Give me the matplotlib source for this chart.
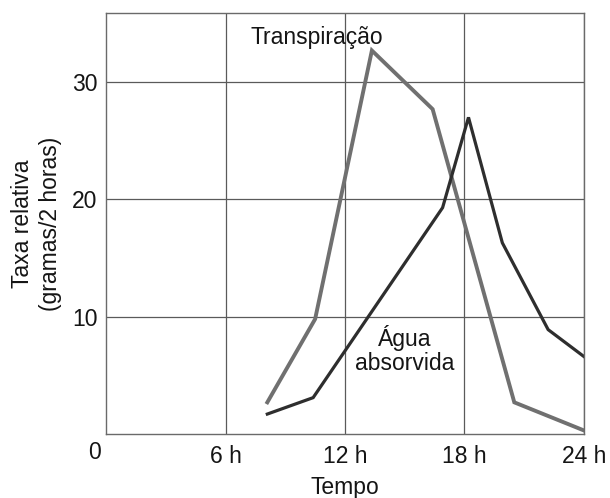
import matplotlib
matplotlib.use("Agg")
import matplotlib.pyplot as plt

# Data
transp_x = [8.1, 10.5, 13.35, 16.4, 20.5, 24.0]
transp_y = [2.7, 9.8, 32.7, 27.7, 2.7, 0.3]
agua_x = [8.1, 10.4, 16.9, 18.2, 19.9, 22.2, 24.0]
agua_y = [1.7, 3.1, 19.3, 27.0, 16.3, 8.9, 6.6]
xticks = [6, 12, 18, 24]
xtick_labels = ["6 h", "12 h", "18 h", "24 h"]
yticks = [10, 20, 30]
ytick_labels = ["10", "20", "30"]

plt.rcParams['font.family'] = ['Liberation Sans', 'DejaVu Sans']
FS = 16.5
TXT = "#151515"

fig = plt.figure(figsize=(6.1, 4.98), dpi=100)
ax = fig.add_axes([106/610, 64/498, (584-106)/610, (434-13)/498])

ax.plot(transp_x, transp_y, color="#707070", lw=2.8, solid_joinstyle="miter")
ax.plot(agua_x, agua_y, color="#2e2e2e", lw=2.3, solid_joinstyle="miter")

ax.set_xlim(0, 24)
ax.set_ylim(0, 35.9)
ax.set_xticks(xticks)
ax.set_xticklabels(xtick_labels)
ax.set_yticks(yticks)
ax.set_yticklabels(ytick_labels)
ax.tick_params(length=0, labelsize=FS, colors=TXT)
ax.tick_params(axis='x', pad=8)
ax.tick_params(axis='y', pad=6)
ax.grid(True, color="#5a5a5a", lw=0.9)
for s in ax.spines.values():
    s.set_color("#6a6a6a")
    s.set_linewidth(1.0)

ax.text(-0.01, -0.045, "0", transform=ax.transAxes, fontsize=FS,
        ha="right", va="center", color=TXT)

ax.text(10.6, 33.8, "Transpiração", fontsize=FS, ha="center", va="center", color=TXT)
ax.text(15.0, 7.2, "Água\nabsorvida", fontsize=FS, ha="center", va="center",
        color=TXT, linespacing=1.05)

ax.set_xlabel("Tempo", fontsize=FS, labelpad=6, color=TXT)
ax.set_ylabel("Taxa relativa\n(gramas/2 horas)", fontsize=FS, labelpad=7,
              color=TXT, linespacing=1.3)

fig.savefig("out.png", dpi=100)
